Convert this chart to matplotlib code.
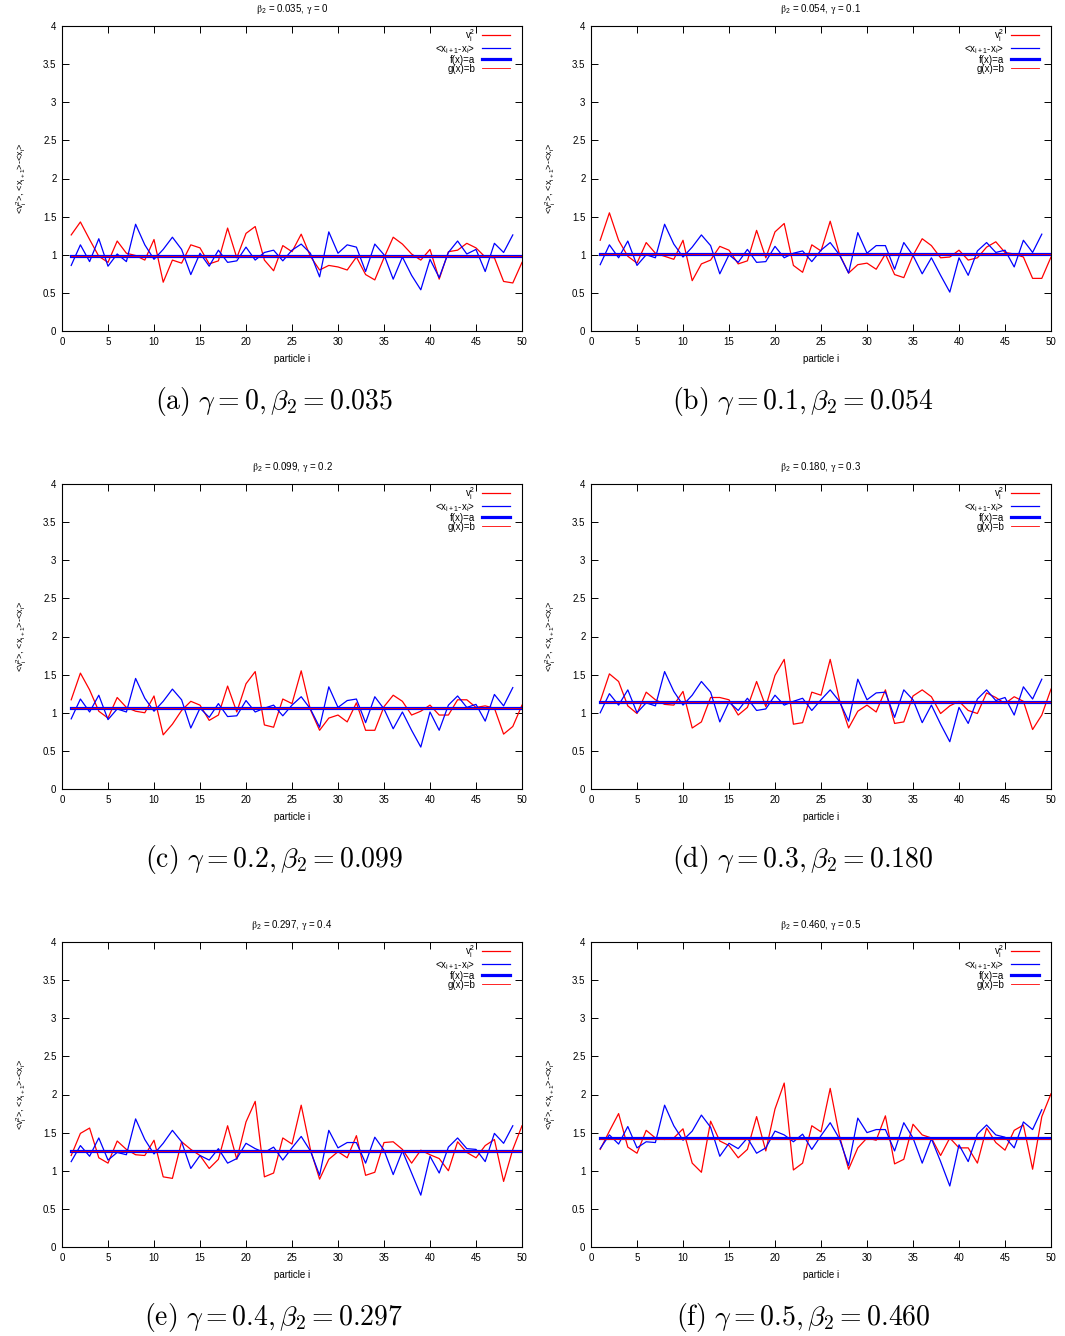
import numpy as np
import matplotlib
matplotlib.use("Agg")
import matplotlib.pyplot as plt
from matplotlib.ticker import MultipleLocator, FormatStrFormatter

plt.rcParams['font.family'] = ['Liberation Sans', 'DejaVu Sans']

# particle index
particles = np.arange(1, 51)

# <v_i^2> for each run (50 particles)
v2_a = [1.26, 1.43, 1.20, 0.98, 0.90, 1.18, 1.02, 0.99, 0.93, 1.20,
        0.64, 0.93, 0.89, 1.13, 1.09, 0.88, 0.92, 1.35, 0.96, 1.28,
        1.37, 0.93, 0.79, 1.12, 1.04, 1.27, 0.98, 0.80, 0.86, 0.84,
        0.80, 0.97, 0.74, 0.67, 0.96, 1.23, 1.14, 1.01, 0.93, 1.07,
        0.68, 1.04, 1.06, 1.15, 1.09, 0.97, 0.96, 0.65, 0.63, 0.90]
v2_b = [1.19, 1.55, 1.19, 0.98, 0.89, 1.16, 1.02, 0.98, 0.94, 1.19,
        0.66, 0.88, 0.93, 1.11, 1.06, 0.88, 0.92, 1.32, 0.96, 1.30,
        1.41, 0.86, 0.77, 1.13, 1.05, 1.44, 1.01, 0.76, 0.87, 0.89,
        0.81, 1.01, 0.74, 0.70, 0.99, 1.21, 1.12, 0.96, 0.97, 1.06,
        0.93, 0.96, 1.10, 1.17, 1.03, 1.01, 0.97, 0.69, 0.69, 0.97]
v2_c = [1.17, 1.52, 1.30, 1.02, 0.93, 1.20, 1.07, 1.02, 1.00, 1.22,
        0.71, 0.85, 1.03, 1.15, 1.10, 0.90, 0.97, 1.35, 1.01, 1.38,
        1.54, 0.84, 0.81, 1.18, 1.12, 1.55, 1.04, 0.77, 0.93, 0.97,
        0.88, 1.13, 0.77, 0.77, 1.08, 1.23, 1.15, 0.97, 1.02, 1.10,
        0.97, 0.97, 1.17, 1.17, 1.07, 1.09, 1.06, 0.72, 0.82, 1.10]
v2_d = [1.15, 1.51, 1.41, 1.09, 0.99, 1.27, 1.17, 1.11, 1.10, 1.28,
        0.80, 0.88, 1.20, 1.20, 1.17, 0.97, 1.07, 1.41, 1.08, 1.49,
        1.70, 0.85, 0.87, 1.27, 1.23, 1.70, 1.17, 0.80, 1.02, 1.10,
        1.01, 1.30, 0.86, 0.88, 1.22, 1.30, 1.21, 0.99, 1.09, 1.15,
        1.03, 0.99, 1.26, 1.20, 1.12, 1.21, 1.15, 0.78, 0.97, 1.31]
v2_e = [1.20, 1.49, 1.56, 1.17, 1.10, 1.39, 1.28, 1.21, 1.20, 1.40,
        0.92, 0.90, 1.38, 1.28, 1.20, 1.03, 1.15, 1.59, 1.15, 1.64,
        1.91, 0.92, 0.97, 1.43, 1.35, 1.86, 1.28, 0.89, 1.15, 1.25,
        1.17, 1.46, 0.94, 0.98, 1.37, 1.38, 1.28, 1.10, 1.27, 1.21,
        1.16, 1.00, 1.38, 1.24, 1.17, 1.33, 1.41, 0.86, 1.28, 1.59]
v2_f = [1.28, 1.52, 1.75, 1.31, 1.23, 1.53, 1.43, 1.41, 1.43, 1.55,
        1.10, 0.98, 1.65, 1.39, 1.33, 1.17, 1.28, 1.71, 1.26, 1.81,
        2.15, 1.01, 1.10, 1.59, 1.51, 2.08, 1.46, 1.02, 1.30, 1.43,
        1.40, 1.72, 1.09, 1.15, 1.61, 1.47, 1.43, 1.20, 1.43, 1.30,
        1.30, 1.10, 1.56, 1.37, 1.27, 1.53, 1.60, 1.02, 1.71, 2.01]

# <x_{i+1}> - <x_i> for each run (49 gaps)
dx_a = [0.86, 1.13, 0.91, 1.21, 0.85, 1.01, 0.91, 1.40, 1.13, 0.94,
        1.07, 1.23, 1.07, 0.74, 1.02, 0.85, 1.06, 0.90, 0.92, 1.10,
        0.93, 1.03, 1.06, 0.92, 1.06, 1.14, 1.02, 0.71, 1.30, 1.02,
        1.13, 1.10, 0.78, 1.14, 1.00, 0.68, 0.97, 0.73, 0.54, 0.94,
        0.70, 1.03, 1.18, 1.01, 1.07, 0.78, 1.15, 1.03, 1.26]
dx_b = [0.87, 1.13, 0.96, 1.18, 0.86, 1.00, 0.96, 1.40, 1.14, 0.97,
        1.10, 1.26, 1.12, 0.75, 1.00, 0.90, 1.07, 0.90, 0.91, 1.11,
        0.96, 1.02, 1.05, 0.91, 1.06, 1.16, 1.00, 0.76, 1.29, 1.02,
        1.12, 1.12, 0.81, 1.16, 0.99, 0.75, 0.96, 0.73, 0.51, 0.96,
        0.73, 1.05, 1.16, 1.03, 1.06, 0.84, 1.19, 1.03, 1.27]
dx_c = [0.92, 1.18, 1.01, 1.23, 0.91, 1.05, 1.01, 1.45, 1.19, 1.02,
        1.15, 1.31, 1.17, 0.80, 1.06, 0.94, 1.12, 0.95, 0.96, 1.16,
        1.01, 1.06, 1.10, 0.96, 1.10, 1.21, 1.05, 0.81, 1.34, 1.07,
        1.16, 1.18, 0.87, 1.21, 1.05, 0.79, 1.01, 0.77, 0.55, 1.01,
        0.77, 1.10, 1.22, 1.07, 1.11, 0.89, 1.24, 1.09, 1.33]
dx_d = [1.00, 1.25, 1.10, 1.30, 1.00, 1.13, 1.09, 1.54, 1.28, 1.10,
        1.23, 1.41, 1.27, 0.88, 1.14, 1.03, 1.19, 1.03, 1.05, 1.23,
        1.10, 1.15, 1.19, 1.03, 1.17, 1.30, 1.15, 0.89, 1.44, 1.17,
        1.26, 1.27, 0.94, 1.30, 1.17, 0.87, 1.10, 0.85, 0.62, 1.07,
        0.86, 1.18, 1.30, 1.16, 1.20, 0.97, 1.34, 1.18, 1.44]
dx_e = [1.12, 1.33, 1.19, 1.43, 1.14, 1.24, 1.21, 1.68, 1.41, 1.22,
        1.36, 1.53, 1.38, 1.03, 1.20, 1.14, 1.29, 1.10, 1.16, 1.36,
        1.29, 1.24, 1.31, 1.14, 1.30, 1.45, 1.26, 0.94, 1.53, 1.30,
        1.37, 1.37, 1.10, 1.44, 1.27, 0.95, 1.26, 0.97, 0.68, 1.19,
        0.97, 1.31, 1.43, 1.29, 1.28, 1.12, 1.49, 1.36, 1.59]
dx_f = [1.29, 1.47, 1.35, 1.58, 1.30, 1.38, 1.37, 1.86, 1.59, 1.40,
        1.52, 1.73, 1.57, 1.19, 1.36, 1.29, 1.43, 1.23, 1.30, 1.52,
        1.47, 1.38, 1.48, 1.28, 1.46, 1.63, 1.42, 1.07, 1.69, 1.50,
        1.54, 1.54, 1.26, 1.63, 1.43, 1.10, 1.42, 1.12, 0.80, 1.34,
        1.12, 1.48, 1.60, 1.47, 1.44, 1.30, 1.64, 1.54, 1.80]

# fitted constants f(x)=a (gap) and g(x)=b (v^2)
fit_a = [0.990, 1.015, 1.065, 1.145, 1.260, 1.425]
fit_b = [0.985, 1.010, 1.060, 1.140, 1.255, 1.410]

gammas = ['0', '0.1', '0.2', '0.3', '0.4', '0.5']
betas = ['0.035', '0.054', '0.099', '0.180', '0.297', '0.460']
letters = ['a', 'b', 'c', 'd', 'e', 'f']

v2_runs = [v2_a, v2_b, v2_c, v2_d, v2_e, v2_f]
dx_runs = [dx_a, dx_b, dx_c, dx_d, dx_e, dx_f]

W, H = 1065, 1336
fig = plt.figure(figsize=(W / 100, H / 100), dpi=100)

col_left = [62, 591]
row_top = [26, 484, 942]
ax_w, ax_h = 460, 305

R = r'\mathregular'

for k in range(6):
    r, c = divmod(k, 2)
    x0 = col_left[c]
    y0 = row_top[r]
    ax = fig.add_axes([x0 / W, 1 - (y0 + ax_h) / H, ax_w / W, ax_h / H])

    ax.plot(particles, v2_runs[k], color='#ff0000', lw=0.9,
            label=r'v$_{%s{i}}^{%s{2}}$' % (R, R))
    ax.plot(particles[:-1], dx_runs[k], color='#0000ff', lw=0.9,
            label=r'<x$_{%s{i+1}}$-x$_{%s{i}}$>' % (R, R))
    ax.axhline(fit_a[k], xmin=1 / 50, xmax=1, color='#0000ff', lw=2.3,
               label='f(x)=a')
    ax.axhline(fit_b[k], xmin=1 / 50, xmax=1, color='#ff0000', lw=0.6,
               label='g(x)=b')

    ax.set_xlim(0, 50)
    ax.set_ylim(0, 4)
    ax.xaxis.set_major_locator(MultipleLocator(5))
    ax.yaxis.set_major_locator(MultipleLocator(0.5))
    ax.yaxis.set_major_formatter(FormatStrFormatter('%g'))
    ax.tick_params(direction='in', top=True, right=True, length=5,
                   width=0.7, labelsize=7, pad=4)
    for s in ax.spines.values():
        s.set_linewidth(0.8)

    ax.set_xlabel('particle i', fontsize=7, labelpad=5)
    ax.set_ylabel(r'<v$_{%s{i}}^{%s{2}}$>, <x$_{%s{i+1}}$>-<x$_{%s{i}}$>'
                  % (R, R, R, R), fontsize=6.5, labelpad=10)
    ax.set_title(r'$\mathrm{\beta}_{%s{2}}$ = %s, $\mathrm{\gamma}$ = %s'
                 % (R, betas[k], gammas[k]),
                 fontsize=7, pad=10, math_fontfamily='stix')

    ax.legend(loc='upper right', frameon=False, markerfirst=False,
              fontsize=7, handlelength=2.8, handletextpad=0.7,
              labelspacing=-0.1, borderaxespad=0.1, borderpad=0.0,
              bbox_to_anchor=(0.975, 1.0))

    cx = (x0 + ax_w / 2 - 18) / W
    cy = 1 - (y0 + ax_h + 70) / H
    fig.text(cx, cy, r'$\mathrm{(%s)}\ \gamma = %s, \beta_2 = %s$'
             % (letters[k], gammas[k], betas[k]),
             fontsize=20, ha='center', va='center', math_fontfamily='cm')

fig.savefig('out.png', dpi=100)
